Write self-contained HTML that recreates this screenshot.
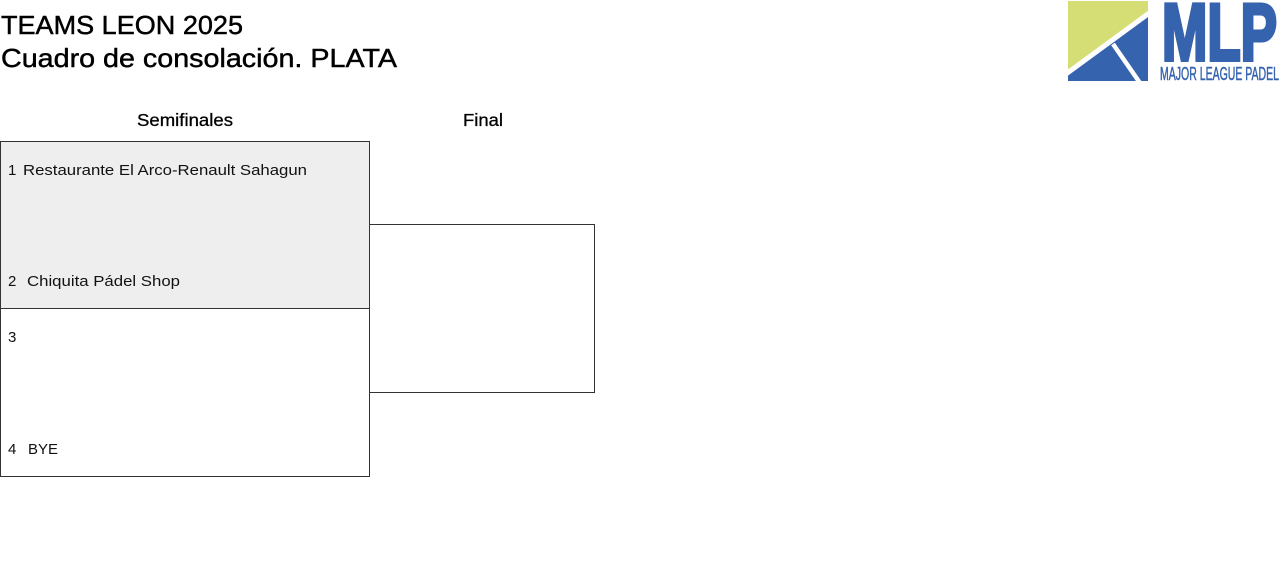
<!DOCTYPE html>
<html>
<head>
<meta charset="utf-8">
<style>
  html,body{margin:0;padding:0;background:#fff;}
  body{width:1280px;height:562px;overflow:hidden;}
  svg{display:block;}
  text{font-family:"Liberation Sans", Arial, sans-serif;}
</style>
</head>
<body>
<svg width="1280" height="562" viewBox="0 0 1280 562" xmlns="http://www.w3.org/2000/svg">
  <rect x="0" y="0" width="1280" height="562" fill="#ffffff"/>

  <!-- Title -->
  <text x="1" y="34" font-size="26" fill="#000" stroke="#000" stroke-width="0.45" textLength="242" lengthAdjust="spacingAndGlyphs">TEAMS LEON 2025</text>
  <text x="1" y="67" font-size="26" fill="#000" stroke="#000" stroke-width="0.45" textLength="396" lengthAdjust="spacingAndGlyphs">Cuadro de consolación. PLATA</text>

  <!-- Logo -->
  <g>
    <rect x="1068" y="1" width="80" height="80" fill="#3563ae"/>
    <polygon points="1068,1 1148,1 1148,12 1068,71" fill="#d4de75"/>
    <line x1="1150" y1="12.5" x2="1066" y2="74" stroke="#ffffff" stroke-width="5"/>
    <line x1="1113" y1="44" x2="1140" y2="83" stroke="#ffffff" stroke-width="4.5"/>
    <text x="1162" y="60" font-size="81" font-weight="bold" fill="#3563ae" stroke="#3563ae" stroke-width="4" stroke-linejoin="miter" textLength="115" lengthAdjust="spacingAndGlyphs">MLP</text>
    <text x="1160" y="80" font-size="18" fill="#3563ae" stroke="#3563ae" stroke-width="0.5" textLength="119" lengthAdjust="spacingAndGlyphs">MAJOR LEAGUE PADEL</text>
  </g>

  <!-- Round headers -->
  <text x="137" y="126" font-size="17.5" fill="#000" stroke="#000" stroke-width="0.3" textLength="96" lengthAdjust="spacingAndGlyphs">Semifinales</text>
  <text x="463" y="126" font-size="17.5" fill="#000" stroke="#000" stroke-width="0.3" textLength="40" lengthAdjust="spacingAndGlyphs">Final</text>

  <!-- Boxes -->
  <rect x="0.5" y="141.5" width="369" height="167" fill="#eeeeee" stroke="#333" stroke-width="1"/>
  <rect x="0.5" y="308.5" width="369" height="168" fill="#ffffff" stroke="#333" stroke-width="1"/>
  <rect x="369.5" y="224.5" width="225" height="168" fill="#ffffff" stroke="#333" stroke-width="1"/>

  <!-- Teams -->
  <g font-size="15" fill="#111">
    <text x="8" y="175">1</text>
    <text x="23" y="175" textLength="284" lengthAdjust="spacingAndGlyphs">Restaurante El Arco-Renault Sahagun</text>
    <text x="8" y="286">2</text>
    <text x="27" y="286" textLength="153" lengthAdjust="spacingAndGlyphs">Chiquita Pádel Shop</text>
    <text x="8" y="342">3</text>
    <text x="8" y="454">4</text>
    <text x="28" y="454" textLength="30" lengthAdjust="spacingAndGlyphs">BYE</text>
  </g>
</svg>
</body>
</html>
